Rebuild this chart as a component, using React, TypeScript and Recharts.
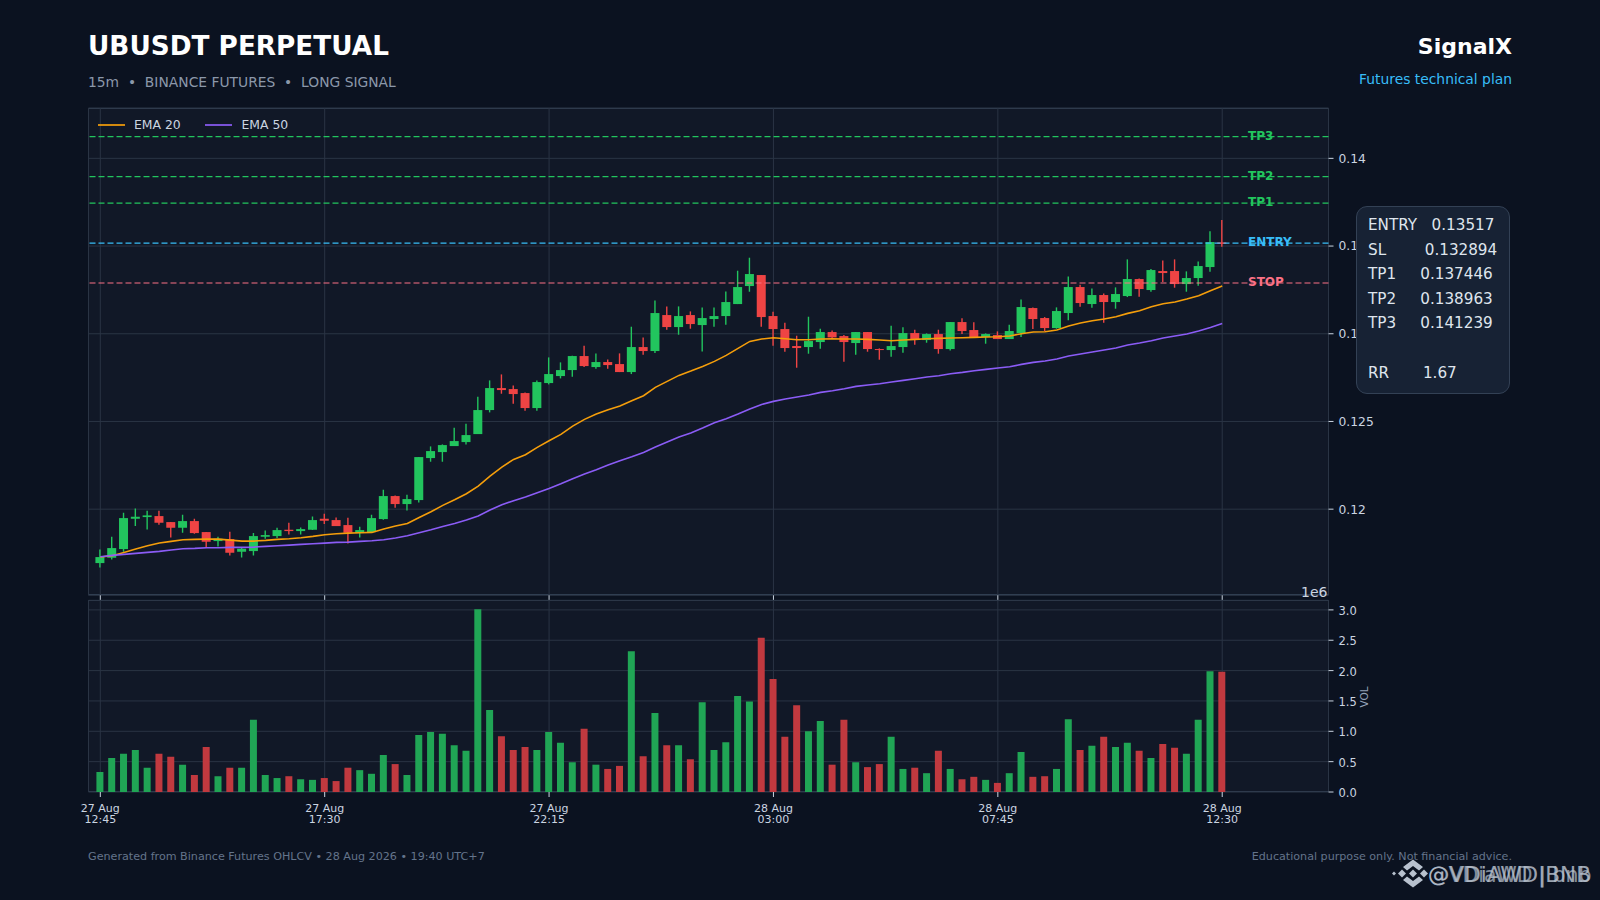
import React from 'react';
import { ComposedChart, Bar, Line, XAxis, YAxis, CartesianGrid, ReferenceLine, Cell } from 'recharts';

const opens = [.116927,.117231,.117725,.119454,.119549,.119606,.119264,.118941,.119321,.118694,.118181,.118295,.117573,.117611,.118428,.118466,.118827,.118751,.118827,.119454,.119378,.119093,.118637,.118694,.119435,.120747,.120291,.120519,.122913,.123255,.123597,.123825,.124281,.125650,.126904,.126847,.126619,.125764,.127189,.127588,.127930,.128729,.128101,.128387,.128272,.127816,.129242,.129014,.131066,.130382,.131066,.130496,.130838,.131009,.131693,.132720,.133347,.131009,.130268,.129299,.129242,.129527,.130097,.129869,.129470,.130097,.129128,.129071,.129242,.130040,.129641,.129983,.129128,.130667,.130212,.129812,.129926,.129698,.130040,.131466,.130896,.130325,.131181,.132663,.131694,.132207,.131808,.132150,.133119,.132492,.133575,.133575,.132834,.133176,.133803,.135210];
const closes = [.117269,.117782,.119492,.119568,.119644,.119226,.118941,.119321,.118637,.118143,.118314,.117516,.117744,.118466,.118523,.118808,.118751,.118865,.119378,.119340,.119036,.118656,.118808,.119492,.120747,.120291,.120576,.122970,.123312,.123654,.123882,.124224,.125650,.126904,.126790,.126562,.125764,.127246,.127702,.127930,.128729,.128158,.128387,.128215,.127816,.129242,.129014,.131180,.130382,.131009,.130553,.130895,.131009,.131807,.132662,.133404,.130952,.130268,.129185,.129185,.129584,.130097,.129793,.129527,.130097,.129128,.129071,.129299,.130040,.129698,.129983,.129128,.130667,.130155,.129812,.129983,.129698,.130155,.131523,.130839,.130325,.131295,.132663,.131751,.132207,.131808,.132264,.133119,.132549,.133632,.133461,.132834,.133176,.133860,.135229,.135120];
const highs = [.117706,.118428,.119797,.120043,.119910,.119910,.119264,.119682,.119454,.118694,.118428,.118713,.117801,.118637,.118789,.118941,.119226,.118960,.119587,.119739,.119530,.119511,.118998,.119682,.121108,.120785,.120823,.122970,.123578,.123692,.124642,.124870,.126410,.127341,.127683,.127056,.126657,.127341,.128652,.128368,.128748,.129318,.128881,.128539,.128881,.130401,.129793,.131902,.131560,.131560,.131275,.131503,.131503,.132415,.133594,.134335,.133347,.131256,.130629,.129888,.130971,.130287,.130192,.129926,.130097,.130097,.129166,.130459,.130364,.130231,.130021,.130231,.130667,.130877,.130649,.130021,.130135,.130516,.131960,.131504,.130953,.131504,.133271,.132796,.132587,.132302,.132644,.134240,.133157,.133689,.134183,.134240,.133556,.134126,.135837,.136482];
const lows = [.116680,.117136,.117573,.119036,.118846,.119112,.118390,.118656,.118599,.117820,.117877,.117364,.117250,.117364,.118314,.118352,.118561,.118561,.118808,.119150,.119036,.118048,.118390,.118656,.119397,.120081,.119929,.120385,.122704,.122704,.123597,.123692,.124281,.125517,.126581,.126011,.125612,.125612,.127113,.127455,.127550,.128101,.128006,.128006,.127816,.127702,.128805,.128900,.130230,.129945,.130287,.128995,.130401,.130515,.131693,.132396,.130401,.129318,.128976,.128063,.128862,.129147,.129698,.128406,.128805,.128976,.128520,.128691,.128919,.129375,.129489,.128862,.129052,.129983,.129812,.129432,.129698,.129698,.129812,.130269,.130155,.130287,.130763,.131542,.131485,.130630,.131428,.132093,.132112,.132397,.132948,.132625,.132397,.132739,.133537,.134960];
const ema20 = [.117269,.117345,.117535,.117725,.117915,.118067,.118162,.118257,.118276,.118295,.118295,.118238,.118181,.118181,.118219,.118276,.118314,.118371,.118447,.118542,.118599,.118637,.118656,.118675,.118865,.119036,.119188,.119530,.119853,.120215,.120537,.120880,.121317,.121887,.122401,.122838,.123103,.123522,.123902,.124263,.124738,.125118,.125422,.125669,.125878,.126182,.126467,.126942,.127285,.127627,.127874,.128140,.128425,.128767,.129166,.129565,.129698,.129774,.129717,.129660,.129660,.129698,.129717,.129698,.129698,.129679,.129641,.129603,.129641,.129679,.129717,.129736,.129755,.129774,.129793,.129812,.129831,.129869,.130002,.130097,.130116,.130211,.130439,.130611,.130744,.130839,.130972,.131162,.131314,.131542,.131713,.131808,.131979,.132169,.132454,.132720];
const ema50 = [.117288,.117364,.117421,.117478,.117535,.117592,.117668,.117744,.117763,.117801,.117801,.117820,.117820,.117839,.117877,.117915,.117953,.117991,.118029,.118067,.118105,.118124,.118162,.118200,.118257,.118352,.118485,.118656,.118827,.119017,.119188,.119378,.119606,.119950,.120253,.120481,.120690,.120937,.121184,.121450,.121736,.122001,.122248,.122514,.122762,.122990,.123237,.123541,.123826,.124111,.124339,.124624,.124928,.125156,.125422,.125707,.125973,.126144,.126277,.126391,.126505,.126657,.126752,.126866,.127000,.127076,.127151,.127246,.127342,.127437,.127532,.127608,.127722,.127798,.127893,.127968,.128044,.128120,.128253,.128367,.128443,.128557,.128728,.128842,.128957,.129071,.129185,.129355,.129470,.129603,.129755,.129869,.129983,.130154,.130363,.130591];
const volumes = [.33,.56,.63,.69,.40,.63,.58,.45,.28,.74,.26,.40,.40,1.19,.28,.23,.26,.21,.20,.23,.18,.40,.36,.30,.61,.46,.28,.94,.99,.96,.77,.68,3.01,1.35,.92,.69,.74,.69,.99,.81,.49,1.04,.45,.38,.43,2.32,.59,1.30,.77,.77,.54,1.48,.69,.82,1.58,1.49,2.54,1.86,.91,1.43,1.00,1.17,.45,1.19,.49,.41,.46,.91,.38,.40,.31,.68,.38,.21,.25,.20,.15,.31,.66,.25,.26,.38,1.20,.69,.76,.91,.74,.81,.68,.56,.79,.73,.63,1.19,1.99,1.98];

const tickIndexes = [0, 19, 38, 57, 76, 95];
const tickDates = ['27 Aug', '27 Aug', '27 Aug', '28 Aug', '28 Aug', '28 Aug'];
const tickTimes = ['12:45', '17:30', '22:15', '03:00', '07:45', '12:30'];
const priceTicks = [0.12, 0.125, 0.13, 0.135, 0.14];
const volumeTicks = [0, 0.5, 1, 1.5, 2, 2.5, 3];
const levels = [
  { label: 'TP3', value: 0.141239, color: '#22c55e' },
  { label: 'TP2', value: 0.138963, color: '#22c55e' },
  { label: 'TP1', value: 0.137446, color: '#22c55e' },
  { label: 'ENTRY', value: 0.13517, color: '#38bdf8' },
  { label: 'STOP', value: 0.132894, color: '#fb7185' },
];
const planLines = ['ENTRY   0.13517', 'SL        0.132894', 'TP1     0.137446', 'TP2     0.138963', 'TP3     0.141239', ' ', 'RR       1.67'];

const rows = opens.map((o, i) => ({
  idx: i, open: o, close: closes[i], high: highs[i], low: lows[i],
  ema20: ema20[i], ema50: ema50[i], volume: volumes[i],
  range: [lows[i], highs[i]],
}));

const GREEN = '#22c55e';
const RED = '#ef4444';
const GRID = '#2a3444';
const TICK = '#cbd5e1';
const FONT = '"DejaVu Sans", sans-serif';
const W = 1600, H = 900;
const LEFT = 88, RIGHT = 1328;
const XDOMAIN = [-1, 104];
const priceTickStyle = { fill: TICK, fontSize: 12.3, fontFamily: FONT };
const volumeTickStyle = { fill: TICK, fontSize: 11.5, fontFamily: FONT, dy: 1 };

function Candle(props: any) {
  const { x, y, width, height, payload } = props;
  const top = Math.min(y, y + height);
  const h = Math.abs(height);
  const py = (v: number) => top + ((payload.high - v) / (payload.high - payload.low)) * h;
  const color = payload.close >= payload.open ? GREEN : RED;
  const cx = x + width / 2;
  const by = py(Math.max(payload.open, payload.close));
  const bb = py(Math.min(payload.open, payload.close));
  return (
    <g>
      <line x1={cx} x2={cx} y1={top} y2={top + h} stroke={color} strokeWidth={1.4} />
      <rect x={x} y={by} width={width} height={Math.max(bb - by, 1)} fill={color} />
    </g>
  );
}

function TimeTick(props: any) {
  const { x, y, payload } = props;
  const i = tickIndexes.indexOf(payload.value);
  return (
    <text x={x} textAnchor="middle" fill={TICK} fontSize={11} fontFamily={FONT}>
      <tspan x={x} y={y + 13}>{tickDates[i]}</tspan>
      <tspan x={x} y={y + 23.5}>{tickTimes[i]}</tspan>
    </text>
  );
}

const abs = (left: number, top: number, extra: any = {}) => ({ position: 'absolute' as const, left, top, fontFamily: FONT, whiteSpace: 'pre' as const, ...extra });

export default function App() {
  return (
    <div style={{ position: 'absolute', left: 0, top: 0, width: W, height: H, background: '#0b1220', overflow: 'hidden' }}>
      <div style={abs(88, 29.5, { color: '#fff', fontSize: 26.3, fontWeight: 700, lineHeight: '32px' })}>UBUSDT PERPETUAL</div>
      <div style={abs(88, 71.7, { color: '#8b98aa', fontSize: 13.85, lineHeight: '20px' })}>15m  •  BINANCE FUTURES  •  LONG SIGNAL</div>
      <div style={abs(1212, 33, { color: '#fff', fontSize: 22, fontWeight: 700, width: 300, textAlign: 'right', lineHeight: '28px' })}>SignalX</div>
      <div style={abs(1212, 68.5, { color: '#38bdf8', fontSize: 13.85, width: 300, textAlign: 'right', lineHeight: '20px' })}>Futures technical plan</div>

      <div style={abs(LEFT, 108, { width: RIGHT - LEFT + 0.5, height: 487.3, background: '#111827', border: '1px solid #334155', boxSizing: 'border-box' })} />
      <div style={abs(LEFT, 600.3, { width: RIGHT - LEFT + 0.5, height: 191.7, background: '#111827', border: '1px solid #334155', boxSizing: 'border-box' })} />

      <div style={{ position: 'absolute', left: 0, top: 0 }}>
        <ComposedChart width={W} height={H} data={rows} margin={{ top: 108, left: LEFT + 0.5, right: 211.5, bottom: 299.7 }}>
          <CartesianGrid stroke={GRID} strokeWidth={1} />
          <XAxis dataKey="idx" type="number" domain={XDOMAIN} ticks={tickIndexes} allowDataOverflow height={5} axisLine={false} tickSize={5} tickLine={{ stroke: TICK }} tickFormatter={() => ''} interval={0} />
          <YAxis orientation="right" width={60} type="number" domain={[0.11509, 0.14287]} ticks={priceTicks} allowDataOverflow axisLine={false} tickLine={{ stroke: TICK }} tickSize={5} tickMargin={5} tick={priceTickStyle} interval={0} tickFormatter={(v: number) => String(v)} />
          {levels.map((l) => (
            <ReferenceLine key={l.label + '-label'} y={l.value} stroke="none"
              label={{ value: l.label, position: 'insideLeft', offset: 1159.5, fill: l.color, fontSize: 12, fontWeight: 700, fontFamily: FONT, dy: -1 }} />
          ))}
          {levels.map((l) => (
            <ReferenceLine key={l.label} y={l.value} stroke={l.color} strokeWidth={1.2} strokeDasharray="6 3" />
          ))}
          <Line dataKey="ema20" stroke="#f59e0b" strokeWidth={1.6} dot={false} isAnimationActive={false} />
          <Line dataKey="ema50" stroke="#8b5cf6" strokeWidth={1.6} dot={false} isAnimationActive={false} />
          <Bar dataKey="range" barSize={9} shape={<Candle />} isAnimationActive={false} />
        </ComposedChart>
      </div>

      <div style={{ position: 'absolute', left: 0, top: 0 }}>
        <ComposedChart width={W} height={H} data={rows} margin={{ top: 600.3, left: LEFT + 0.5, right: 211.5, bottom: 73 }}>
          <CartesianGrid stroke={GRID} strokeWidth={1} />
          <XAxis dataKey="idx" type="number" domain={XDOMAIN} ticks={tickIndexes} allowDataOverflow height={35} axisLine={false} tickSize={5} tickLine={{ stroke: TICK }} tick={<TimeTick />} interval={0} />
          <YAxis orientation="right" width={60} type="number" domain={[0, 3.158]} ticks={volumeTicks} allowDataOverflow axisLine={false} tickLine={{ stroke: TICK }} tickSize={5} tickMargin={5} tick={volumeTickStyle} interval={0} tickFormatter={(v: number) => v.toFixed(1)} />
          <Bar dataKey="volume" barSize={7} isAnimationActive={false}>
            {rows.map((r) => (
              <Cell key={r.idx} fill={r.close >= r.open ? '#20a555' : '#c1393f'} />
            ))}
          </Bar>
        </ComposedChart>
      </div>

      {/* legend */}
      <div style={abs(98, 123.5, { width: 26.5, height: 2, background: '#f59e0b', opacity: 0.85 })} />
      <div style={abs(134, 117, { color: TICK, fontSize: 12.4, lineHeight: '16px' })}>EMA 20</div>
      <div style={abs(205, 123.5, { width: 26.5, height: 2, background: '#8b5cf6', opacity: 0.85 })} />
      <div style={abs(241.5, 117, { color: TICK, fontSize: 12.4, lineHeight: '16px' })}>EMA 50</div>

      <div style={abs(1200, 584, { width: 127.5, textAlign: 'right', color: TICK, fontSize: 14, lineHeight: '16px' })}>1e6</div>
      <div style={abs(1364, 697, { color: '#94a3b8', fontSize: 10.5, lineHeight: '12px', transform: 'translate(-50%,-50%) rotate(-90deg)' })}>VOL</div>

      {/* plan box */}
      <div style={abs(1355.5, 206, { width: 154.5, height: 187.5, background: '#172234', border: '1px solid #334155', borderRadius: 11, boxSizing: 'border-box' })} />
      {planLines.map((t, i) => (
        <div key={i} style={abs(1368, 213 + i * 24.6, { color: '#dfe5ed', fontSize: 15.2, lineHeight: '24px' })}>{t}</div>
      ))}

      <div style={abs(88, 849, { color: '#64748b', fontSize: 11.15, lineHeight: '16px' })}>Generated from Binance Futures OHLCV • 28 Aug 2026 • 19:40 UTC+7</div>
      <div style={abs(1112, 849, { color: '#64748b', fontSize: 11.13, lineHeight: '16px', width: 400, textAlign: 'right' })}>Educational purpose only. Not financial advice.</div>

      {/* watermark */}
      <svg style={{ position: 'absolute', left: 1392, top: 859 }} width={44} height={29} viewBox="0 0 44 28">
        <g fill="#cbd5e1" opacity={0.9}>
          <polygon points="21,0 31,7.5 27,11 21,6.5 15,11 11,7.5" />
          <polygon points="21,28 31,20.5 27,17 21,21.5 15,17 11,20.5" />
          <polygon points="21,10 25,14 21,18 17,14" />
          <polygon points="10,10 14,14 10,18 6,14" />
          <polygon points="32,10 36,14 32,18 28,14" />
          <polygon points="2,12 4,14 2,16 0,14" />
        </g>
      </svg>
      <div style={abs(1428, 861, { color: '#cbd5e1', opacity: 0.75, fontSize: 21.5, lineHeight: '28px' })}>@VDiAWD|BNB</div>
      <div style={abs(1428, 861, { color: '#b6c0cd', opacity: 0.7, fontSize: 20.5, lineHeight: '28px' })}>@VDiaWD | bnb</div>
    </div>
  );
}
